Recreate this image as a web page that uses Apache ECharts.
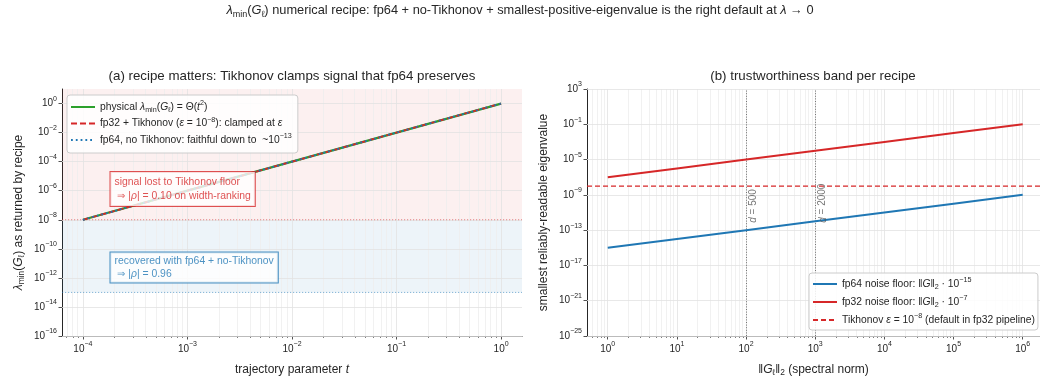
<!DOCTYPE html>
<html>
<head>
<meta charset="utf-8">
<script src="https://cdn.jsdelivr.net/npm/echarts@6/dist/echarts.min.js"></script>
<style>
  html, body { margin: 0; padding: 0; background: #fff; }
  #chart { width: 1040px; height: 376px; }
</style>
</head>
<body>
<div id="chart"></div>
<script>
// ---- panel (a): lambda_min along the trajectory -------------------------
const tValues            = [1e-4, 1e-3, 1e-2, 1e-1, 1];
const lambdaPhysical     = [1e-8, 1e-6, 1e-4, 1e-2, 1];
const lambdaFp32Tikhonov = [1e-8, 1e-6, 1e-4, 1e-2, 1];
const lambdaFp64Raw      = [1e-8, 1e-6, 1e-4, 1e-2, 1];
const tikhonovEps = 1e-8;
const fp64Faithful = 1e-13;
const tTicks      = [1e-4, 1e-3, 1e-2, 1e-1, 1];
const lambdaTicks = [1e-16, 1e-14, 1e-12, 1e-10, 1e-8, 1e-6, 1e-4, 1e-2, 1];

// ---- panel (b): noise floors against spectral norm ----------------------
const specNorm  = [1, 10, 100, 1e3, 1e4, 1e5, 1e6];
const fp64Noise = [1e-15, 1e-14, 1e-13, 1e-12, 1e-11, 1e-10, 1e-9];
const fp32Noise = [1e-7, 1e-6, 1e-5, 1e-4, 1e-3, 1e-2, 1e-1];
const dimNorms  = [100, 1000];
const dimLabels = ['500', '2000'];
const normTicks  = [1, 10, 100, 1e3, 1e4, 1e5, 1e6];
const floorTicks = [1e-25, 1e-21, 1e-17, 1e-13, 1e-9, 1e-5, 1e-1, 1e3];

// ---- styling --------------------------------------------------------------
const FONT = '"Liberation Sans", Arial, Helvetica, sans-serif';
const INK = '#262626';
const RED = '#d62728', BLUE = '#1f77b4', GREEN = '#2ca02c';
const GRID_MAJOR = '#e2e2e2', GRID_MINOR = '#eeeeee';

const lg = Math.log10;
const pairs = (xs, ys) => xs.map((x, i) => [lg(x), lg(ys[i])]);
const expo = e => (e < 0 ? '\u2212' + (-e) : String(e));
const sup = e => '{sup|' + expo(e) + '}';

function rich(size, color) {
  const s = Math.round(size * 0.7 * 10) / 10;
  return {
    i:   { fontSize: size, fontStyle: 'italic', fontWeight: 'normal', fontFamily: FONT, color: color },
    sup: { fontSize: s, fontWeight: 'normal', fontFamily: FONT, color: color, lineHeight: s + 1, verticalAlign: 'top' },
    sub: { fontSize: s, fontWeight: 'normal', fontFamily: FONT, color: color, lineHeight: s + 1, verticalAlign: 'bottom' }
  };
}
function txt(size, color, lh) {
  return { fontSize: size, fontWeight: 'normal', fontFamily: FONT, color: color, lineHeight: lh, rich: rich(size, color) };
}

// decade grid positions (in log10 units) for a range of exponents
function majors(e0, e1) { const out = []; for (let e = e0; e <= e1; e++) out.push(e); return out; }
function minors(e0, e1) {
  const out = [];
  for (let e = e0; e <= e1; e++) for (let k = 2; k <= 9; k++) out.push(lg(k) + e);
  return out;
}
const within = (vals, lo, hi) => vals.filter(v => v >= lo && v <= hi);

const A = { xmin: -4.2, xmax: 0.2, ymin: -16, ymax: 1 };
const B = { xmin: -0.3, xmax: 6.25, ymin: -25, ymax: 3 };

function vLines(vals, color) {
  return vals.map(v => ({ xAxis: v, lineStyle: { color: color, width: 0.8, type: 'solid' } }));
}
function hLines(vals, color) {
  return vals.map(v => ({ yAxis: v, lineStyle: { color: color, width: 0.8, type: 'solid' } }));
}
// horizontal reference level spanning a panel's full x range
const level = (r, v) => [[r.xmin, lg(v)], [r.xmax, lg(v)]];

const tickLabel = v => '10' + sup(Math.round(v));

function mainX(grid, r, ticks, name) {
  return {
    type: 'value', gridIndex: grid, min: r.xmin, max: r.xmax, position: 'bottom',
    axisLine: { show: true, onZero: false, lineStyle: { color: INK, width: 1 } },
    axisTick: { show: true, customValues: ticks.map(lg), length: 3.5, lineStyle: { color: INK, width: 0.8 } },
    axisLabel: Object.assign({ customValues: ticks.map(lg), formatter: tickLabel, margin: 5 }, txt(10, INK, 16)),
    splitLine: { show: false },
    name: name, nameLocation: 'middle', nameGap: 23.5, nameTextStyle: txt(12, INK, 15)
  };
}
function minorX(grid, r) {
  return {
    type: 'value', gridIndex: grid, min: r.xmin, max: r.xmax, position: 'bottom',
    axisLine: { show: false, onZero: false },
    axisTick: { show: true, customValues: within(minors(Math.floor(r.xmin), Math.ceil(r.xmax)), r.xmin, r.xmax),
                length: 2, lineStyle: { color: INK, width: 0.6 } },
    axisLabel: { show: false },
    splitLine: { show: false }
  };
}
function mainY(grid, r, ticks, name, gap) {
  return {
    type: 'value', gridIndex: grid, min: r.ymin, max: r.ymax,
    axisLine: { show: true, onZero: false, lineStyle: { color: INK, width: 1 } },
    axisTick: { show: true, customValues: ticks.map(lg), length: 3.5, lineStyle: { color: INK, width: 0.8 } },
    axisLabel: Object.assign({ customValues: ticks.map(lg), formatter: tickLabel, margin: 5 }, txt(10, INK, 16)),
    splitLine: { show: false },
    name: name, nameLocation: 'middle', nameGap: gap, nameTextStyle: txt(12, INK, 15)
  };
}

// grid lines sit under everything; reference lines sit just above the grid
const markBase = { silent: true, symbol: ['none', 'none'], label: { show: false }, animation: false,
                   emphasis: { disabled: true }, z: 1 };
const refBase = Object.assign({}, markBase, { z: 2 });

const legendNames = {
  phys:  'physical {i|λ}{sub|min}({i|G}{sub|ℓ}) = Θ({i|t}' + sup(2) + ')',
  fp32t: 'fp32 + Tikhonov ({i|ε} = 10' + sup(-8) + '): clamped at {i|ε}',
  fp64r: 'fp64, no Tikhonov: faithful down to  ~10' + sup(-13),
  fp64n: 'fp64 noise floor: ‖{i|G}‖{sub|2} · 10' + sup(-15),
  fp32n: 'fp32 noise floor: ‖{i|G}‖{sub|2} · 10' + sup(-7),
  tik:   'Tikhonov {i|ε} = 10' + sup(-8) + ' (default in fp32 pipeline)'
};

const legendBox = {
  orient: 'vertical', selectedMode: false,
  itemWidth: 24, itemHeight: 10,
  itemStyle: { opacity: 0, borderWidth: 0 },
  backgroundColor: 'rgba(255,255,255,0.85)', borderColor: '#cccccc', borderWidth: 1, borderRadius: 3,
  formatter: n => legendNames[n],
  textStyle: txt(10.3, INK, 14)
};

const option = {
  animation: false,
  backgroundColor: '#ffffff',
  title: [
    { text: '{i|λ}{sub|min}({i|G}{sub|ℓ}) numerical recipe: fp64 + no-Tikhonov + smallest-positive-eigenvalue is the right default at {i|λ} → 0',
      left: 520, top: 2, textAlign: 'center', padding: 0, textStyle: txt(12.8, INK, 17) },
    { text: '(a) recipe matters: Tikhonov clamps signal that fp64 preserves',
      left: 292, top: 68, textAlign: 'center', padding: 0, textStyle: txt(13.3, INK, 16) },
    { text: '(b) trustworthiness band per recipe',
      left: 813, top: 68, textAlign: 'center', padding: 0, textStyle: txt(13.3, INK, 16) }
  ],
  grid: [
    { left: 62, top: 89, width: 460, height: 247, outerBoundsMode: 'none', containLabel: false },
    { left: 587, top: 89, right: 0, height: 247, outerBoundsMode: 'none', containLabel: false }
  ],
  xAxis: [
    mainX(0, A, tTicks, 'trajectory parameter {i|t}'),
    minorX(0, A),
    mainX(1, B, normTicks, '‖{i|G}{sub|ℓ}‖{sub|2} (spectral norm)'),
    minorX(1, B)
  ],
  yAxis: [
    mainY(0, A, lambdaTicks, '{i|λ}{sub|min}({i|G}{sub|ℓ}) as returned by recipe', 36),
    mainY(1, B, floorTicks, 'smallest reliably-readable eigenvalue', 36)
  ],
  legend: [
    Object.assign({}, legendBox, { data: ['phys', 'fp32t', 'fp64r'], left: 67, top: 95, itemGap: 2.5, padding: [5, 6, 6, 3] }),
    Object.assign({}, legendBox, { data: ['fp64n', 'fp32n', 'tik'], left: 809, top: 273, itemGap: 4, padding: [4, 3, 3, 3] })
  ],
  series: [
    // panel (a) grid
    { type: 'line', name: '_gridA', xAxisIndex: 0, yAxisIndex: 0, data: [], z: 1, silent: true,
      markLine: Object.assign({}, markBase, { data: [].concat(
        vLines(within(minors(-5, 0), A.xmin, A.xmax), GRID_MINOR),
        vLines(within(majors(-4, 0), A.xmin, A.xmax), GRID_MAJOR),
        hLines(lambdaTicks.map(lg), GRID_MAJOR)) }) },
    // panel (a) shaded regimes
    { type: 'line', name: '_bandsA', xAxisIndex: 0, yAxisIndex: 0, data: [], z: 1, silent: true,
      markArea: { silent: true, animation: false, z: 1, data: [
        [{ yAxis: lg(tikhonovEps), itemStyle: { color: 'rgba(214,39,40,0.07)' } }, { yAxis: A.ymax }],
        [{ yAxis: lg(fp64Faithful), itemStyle: { color: 'rgba(31,119,180,0.08)' } }, { yAxis: lg(tikhonovEps) }]
      ] } },
    // panel (a) the Tikhonov floor and the fp64 faithfulness limit
    { type: 'line', name: '_floorEps', xAxisIndex: 0, yAxisIndex: 0, data: level(A, tikhonovEps), z: 2, silent: true,
      symbol: 'none', lineStyle: { color: RED, opacity: 0.6, width: 0.9, type: [1.2, 1.8] } },
    { type: 'line', name: '_floorFp64', xAxisIndex: 0, yAxisIndex: 0, data: level(A, fp64Faithful), z: 2, silent: true,
      symbol: 'none', lineStyle: { color: BLUE, opacity: 0.6, width: 0.9, type: [1.2, 1.8] } },
    { type: 'line', name: 'phys', xAxisIndex: 0, yAxisIndex: 0, data: pairs(tValues, lambdaPhysical),
      symbol: 'none', z: 3, lineStyle: { color: GREEN, width: 2.3 }, itemStyle: { color: GREEN } },
    { type: 'line', name: 'fp32t', xAxisIndex: 0, yAxisIndex: 0, data: pairs(tValues, lambdaFp32Tikhonov),
      symbol: 'none', z: 4, lineStyle: { color: RED, width: 1.8, type: [6, 3] }, itemStyle: { color: RED } },
    { type: 'line', name: 'fp64r', xAxisIndex: 0, yAxisIndex: 0, data: pairs(tValues, lambdaFp64Raw),
      symbol: 'none', z: 5, lineStyle: { color: BLUE, width: 1.8, type: [1.8, 3] }, itemStyle: { color: BLUE } },
    // panel (a) annotations
    { type: 'scatter', name: '_noteRed', xAxisIndex: 0, yAxisIndex: 0, z: 6, silent: true,
      symbolSize: 1, itemStyle: { color: 'rgba(0,0,0,0)' },
      data: [[-3.741, -5.88]],
      label: Object.assign({ show: true, position: 'right', distance: 0, align: 'left', verticalAlign: 'middle',
        formatter: 'signal lost to Tikhonov floor\n ⇒ |{i|ρ}| = 0.10 on width-ranking',
        backgroundColor: '#ffffff', borderColor: RED, borderWidth: 1, padding: [3, 4, 3, 4] }, txt(10.4, RED, 14)) },
    { type: 'scatter', name: '_noteBlue', xAxisIndex: 0, yAxisIndex: 0, z: 6, silent: true,
      symbolSize: 1, itemStyle: { color: 'rgba(0,0,0,0)' },
      data: [[-3.741, -11.28]],
      label: Object.assign({ show: true, position: 'right', distance: 0, align: 'left', verticalAlign: 'middle',
        formatter: 'recovered with fp64 + no-Tikhonov\n ⇒ |{i|ρ}| = 0.96',
        backgroundColor: '#ffffff', borderColor: BLUE, borderWidth: 1, padding: [2, 4, 2, 4] }, txt(10.4, BLUE, 13)) },

    // panel (b) grid and dimension markers
    { type: 'line', name: '_gridB', xAxisIndex: 2, yAxisIndex: 1, data: [], z: 1, silent: true,
      markLine: Object.assign({}, markBase, { data: [].concat(
        vLines(within(minors(-1, 6), B.xmin, B.xmax), GRID_MINOR),
        vLines(within(majors(0, 6), B.xmin, B.xmax), GRID_MAJOR),
        hLines(floorTicks.map(lg), GRID_MAJOR)) }) },
    { type: 'line', name: '_dimLines', xAxisIndex: 2, yAxisIndex: 1, data: [], z: 2, silent: true,
      markLine: Object.assign({}, refBase, { data:
        dimNorms.map(v => ({ xAxis: lg(v), lineStyle: { color: '#555555', width: 0.8, type: [1, 1.6] } })) }) },
    { type: 'line', name: 'fp64n', xAxisIndex: 2, yAxisIndex: 1, data: pairs(specNorm, fp64Noise),
      symbol: 'none', z: 3, lineStyle: { color: BLUE, width: 2 }, itemStyle: { color: BLUE } },
    { type: 'line', name: 'fp32n', xAxisIndex: 2, yAxisIndex: 1, data: pairs(specNorm, fp32Noise),
      symbol: 'none', z: 3, lineStyle: { color: RED, width: 2 }, itemStyle: { color: RED } },
    { type: 'line', name: 'tik', xAxisIndex: 2, yAxisIndex: 1, data: level(B, tikhonovEps), z: 3, silent: true,
      symbol: 'none', lineStyle: { color: RED, width: 1.2, type: [5, 3] }, itemStyle: { color: RED } },
    { type: 'scatter', name: '_dims', xAxisIndex: 2, yAxisIndex: 1, z: 6, silent: true,
      symbolSize: 1, itemStyle: { color: 'rgba(0,0,0,0)' },
      data: dimNorms.map((v, i) => ({ value: [lg(v), -12], label: { formatter: '{i|d} = ' + dimLabels[i] } })),
      label: Object.assign({ show: true, position: [2, 2], rotate: 90, align: 'left', verticalAlign: 'top' },
        txt(10, '#555555', 12)) }
  ]
};

const chart = echarts.init(document.getElementById('chart'), null, { renderer: 'canvas' });
chart.setOption(option);
</script>
</body>
</html>
